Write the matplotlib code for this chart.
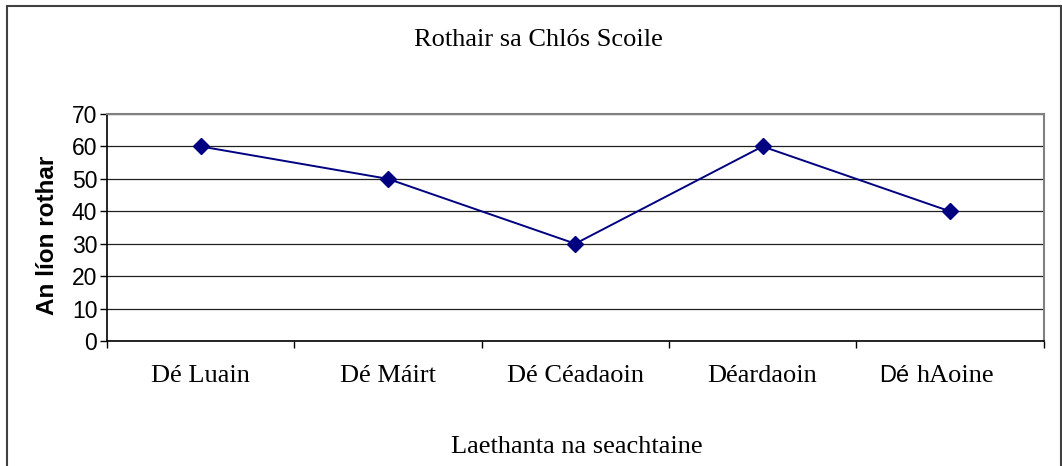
import matplotlib
matplotlib.use("Agg")
import matplotlib.pyplot as plt
from matplotlib.patches import Rectangle
from matplotlib.offsetbox import TextArea, HPacker, AnnotationBbox

title = "Rothair sa Chlós Scoile"
days = ["Dé Luain", "Dé Máirt", "Dé Céadaoin", "Déardaoin", "Dé hAoine"]
bikes = [60, 50, 30, 60, 40]
y_label = "An líon rothar"
x_label = "Laethanta na seachtaine"
y_ticks = [0, 10, 20, 30, 40, 50, 60, 70]

SERIF = "Liberation Serif"
SANS = "Liberation Sans"

fig = plt.figure(figsize=(10.62, 4.66), dpi=100)
fig.patch.set_facecolor("white")

# outer chart border
fig.patches.append(Rectangle((7 / 1062, -0.05), (1061 - 7) / 1062, 1 - 6 / 466 + 0.05,
                             transform=fig.transFigure, fill=False,
                             edgecolor="#404040", linewidth=1.5, clip_on=False))

ax = fig.add_axes([107 / 1062, 125 / 466, (1043.5 - 107) / 1062, (341 - 114) / 466])

x = list(range(len(days)))
ax.plot(x, bikes, color="#000080", linewidth=1.4, marker="D", markersize=8.3,
        markerfacecolor="#000080", markeredgecolor="#000080", zorder=3)

ax.set_xlim(-0.5, len(days) - 0.5)
ax.set_ylim(0, 70)
ax.set_yticks(y_ticks)
ax.set_yticklabels([str(v) for v in y_ticks], fontfamily=SANS, fontsize=16.5)
ax.yaxis.grid(True, color="#202020", linewidth=0.9)
ax.set_axisbelow(True)

ax.set_xticks([i - 0.5 for i in range(len(days) + 1)])
ax.set_xticklabels([])
ax.tick_params(axis="x", direction="out", length=5, width=1, color="black")
ax.tick_params(axis="y", direction="out", length=5, width=1, color="black", pad=2)

for s in ["top", "right"]:
    ax.spines[s].set_color("#808080")
    ax.spines[s].set_linewidth(1.5)
for s in ["left", "bottom"]:
    ax.spines[s].set_color("black")
    ax.spines[s].set_linewidth(1.2)

# category labels
for i, d in enumerate(days):
    if i == len(days) - 1:
        first, rest = d.split(" ", 1)
        box = HPacker(children=[TextArea(first, textprops=dict(fontfamily=SANS, fontsize=17)),
                                TextArea(rest, textprops=dict(fontfamily=SERIF, fontsize=19))],
                      align="baseline", pad=0, sep=5)
        ab = AnnotationBbox(box, (i - 0.07, 0), xycoords=ax.get_xaxis_transform(),
                            xybox=(0, -25), boxcoords="offset points",
                            frameon=False, box_alignment=(0.5, 0.5))
        ax.add_artist(ab)
    else:
        ax.annotate(d, (i, 0), xycoords=ax.get_xaxis_transform(),
                    xytext=(0, -25), textcoords="offset points",
                    ha="center", va="center", fontfamily=SERIF, fontsize=19)

fig.text(538 / 1062, 1 - 40 / 466, title, ha="center", va="center",
         fontfamily=SERIF, fontsize=19)
fig.text(577 / 1062, 1 - 447 / 466, x_label, ha="center", va="center",
         fontfamily=SERIF, fontsize=19)
fig.text(48 / 1062, 1 - 235 / 466, y_label, ha="center", va="center",
         rotation=90, fontfamily=SANS, fontweight="bold", fontsize=17.5)

fig.savefig("out.png", dpi=100)
